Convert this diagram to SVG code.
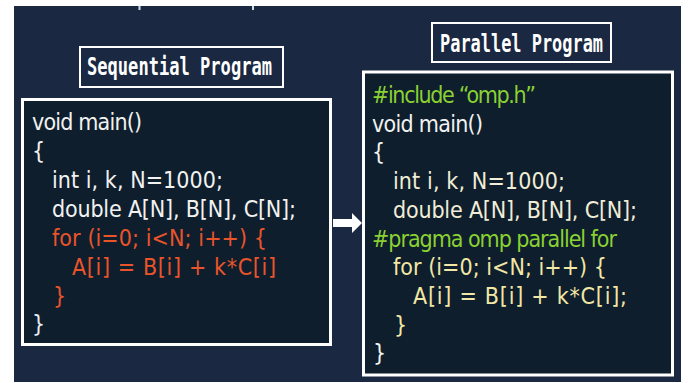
<svg xmlns="http://www.w3.org/2000/svg" width="688" height="383" viewBox="0 0 688 383">
<style>
.title{font-family:"DejaVu Sans Mono","Liberation Mono",monospace;font-weight:bold;font-size:24px;fill:#FFFFFF}
.code{font-family:"Liberation Sans Narrow","DejaVu Sans Condensed","Liberation Sans",sans-serif;font-size:23px}
.tbox{fill:#1B2842;stroke:#FFFFFF;stroke-width:2}
.cbox{fill:#0E1E2D;stroke:#FFFFFF;stroke-width:3}
.w{fill:#F2F2F0}
.o{fill:#E9542B}
.g{fill:#8AD132}
.c{fill:#F1EDD6}
.y{fill:#F2E7A4}
.b{fill:#E6EDF6}
</style>
<rect x="0" y="0" width="688" height="383" fill="#FFFFFF"/>
<rect x="14" y="6" width="667" height="376" fill="#1B2842"/>
<rect x="138.5" y="6" width="2" height="4" fill="#D8DCE4"/>
<rect x="252" y="6" width="2" height="4" fill="#D8DCE4"/>

<g id="seq-title">
<rect class="tbox" x="80" y="47" width="203" height="40"/>
<text class="title" x="87" y="75" textLength="185" lengthAdjust="spacingAndGlyphs">Sequential Program</text>
</g>

<g id="par-title">
<rect class="tbox" x="432" y="23" width="179" height="39"/>
<text class="title" x="440" y="52" textLength="163" lengthAdjust="spacingAndGlyphs">Parallel Program</text>
</g>

<g id="seq-code">
<rect class="cbox" x="22.5" y="99.5" width="308" height="245"/>
<text class="code w" x="32" y="130" textLength="110" lengthAdjust="spacing">void main()</text>
<text class="code w" x="32" y="159">{</text>
<text class="code w" x="52" y="188" textLength="171" lengthAdjust="spacing">int i, k, N=1000;</text>
<text class="code w" x="52" y="217" textLength="244" lengthAdjust="spacing">double A[N], B[N], C[N];</text>
<text class="code o" x="52" y="246" textLength="215" lengthAdjust="spacing">for (i=0; i&lt;N; i++) {</text>
<text class="code o" x="72" y="275" textLength="204" lengthAdjust="spacing">A[i] = B[i] + k*C[i]</text>
<text class="code o" x="53" y="304">}</text>
<text class="code b" x="32" y="332">}</text>
</g>

<g id="par-code">
<rect class="cbox" x="363.5" y="72" width="309" height="303"/>
<text class="code g" x="372" y="103" textLength="164" lengthAdjust="spacing">#include “omp.h”</text>
<text class="code w" x="372" y="131.7" textLength="111" lengthAdjust="spacing">void main()</text>
<text class="code w" x="372" y="160.4">{</text>
<text class="code c" x="393" y="189.1" textLength="172" lengthAdjust="spacing">int i, k, N=1000;</text>
<text class="code c" x="393" y="217.8" textLength="244" lengthAdjust="spacing">double A[N], B[N], C[N];</text>
<text class="code g" x="372" y="246.5" textLength="245" lengthAdjust="spacing">#pragma omp parallel for</text>
<text class="code y" x="393" y="275.2" textLength="214" lengthAdjust="spacing">for (i=0; i&lt;N; i++) {</text>
<text class="code y" x="413" y="303.9" textLength="214" lengthAdjust="spacing">A[i] = B[i] + k*C[i];</text>
<text class="code y" x="394" y="332.6">}</text>
<text class="code w" x="373" y="361.3">}</text>
</g>

<g id="connectors">
<polygon points="333,219 352,219 352,213 362,223 352,233 352,227 333,227" fill="#FFFFFF"/>
</g>
</svg>
